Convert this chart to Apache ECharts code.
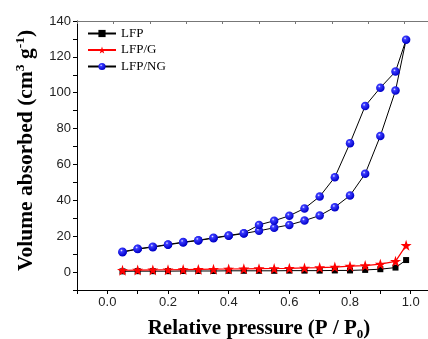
<!DOCTYPE html>
<html><head><meta charset="utf-8">
<script src="https://cdn.jsdelivr.net/npm/echarts@6/dist/echarts.min.js"></script>
<style>html,body{margin:0;padding:0;background:#fff}#c{width:428px;height:339px}</style>
</head><body><div id="c"></div>
<script>
// Relative pressure values
const pAds = [0.05,0.10,0.15,0.20,0.25,0.30,0.35,0.40,0.45,0.50,0.55,0.60,0.65,0.70,0.75,0.80,0.85,0.90,0.95,0.985];
const pDes = [0.95,0.90,0.85,0.80,0.75,0.70,0.65,0.60,0.55,0.50,0.45,0.40,0.35,0.30,0.25,0.20,0.15,0.10,0.05];
// LFP (black squares)
const lfp = [0.4,0.5,0.5,0.5,0.6,0.6,0.6,0.7,0.7,0.7,0.7,0.8,0.8,0.8,0.9,0.9,1.2,1.6,2.5,6.7];
// LFP/G (red stars)
const lfpG = [1.0,1.1,1.2,1.3,1.4,1.5,1.6,1.7,1.8,1.9,2.0,2.1,2.3,2.5,2.8,3.3,3.6,4.4,6.0,14.9];
// LFP/NG adsorption and desorption branches (blue spheres)
const ngAds = [11.1,12.8,13.9,15.2,16.5,17.6,18.9,20.2,21.5,23.0,24.7,26.3,28.7,31.5,36.2,42.7,54.8,75.9,101.2,129.6];
const ngDes = [111.8,102.8,92.6,71.9,52.9,42.1,35.5,31.4,28.6,26.3,21.7,20.4,19.1,17.8,16.7,15.4,14.1,13.0,11.3];
const xTickLabels = ['0.0','0.2','0.4','0.6','0.8','1.0'];
const yTickLabels = ['0','20','40','60','80','100','120','140'];

const pairs = (xs, ys) => xs.map((x, i) => [x, ys[i]]);
const ngLoop = pairs(pAds, ngAds).concat(pairs(pDes, ngDes));

const serif = '"Liberation Serif","Times New Roman",serif';
const sans = '"Liberation Sans",Arial,sans-serif';
const sphere = {type:'radial', x:0.38, y:0.35, r:0.65, colorStops:[
  {offset:0, color:'#e8e8ff'},{offset:0.25, color:'#3a3aff'},{offset:1, color:'#0000c8'}]};

const chart = echarts.init(document.getElementById('c'), null, {renderer:'canvas'});
chart.setOption({
  animation:false,
  grid:{left:77, top:21, width:364, height:269, containLabel:false, outerBoundsMode:'none'},
  legend:{
    orient:'vertical', left:87, top:27, padding:0, itemWidth:28, itemHeight:9, itemGap:3.5,
    textStyle:{fontFamily:serif, fontSize:13, color:'#000', lineHeight:13},
    data:['LFP','LFP/G','LFP/NG']
  },
  xAxis:[{
    type:'value', min:-0.1, max:1.1, interval:0.1, position:'bottom',
    axisLine:{onZero:false, lineStyle:{color:'#000', width:1}},
    axisTick:{show:true, inside:false, length:4, lineStyle:{color:'#000'}},
    splitLine:{show:false},
    axisLabel:{
      fontFamily:sans, fontSize:13, color:'#222', margin:6,
      formatter:(v)=>{ const k=Math.round(v*10); const s=(k/10).toFixed(1); return (k%2===0 && xTickLabels.includes(s))? s : ''; }
    },
    name:'Relative pressure (P / P{sub|0})', nameLocation:'middle', nameGap:26,
    nameTextStyle:{fontFamily:serif, fontSize:21, fontWeight:'bold', color:'#000',
      rich:{sub:{fontFamily:serif, fontSize:13, fontWeight:'bold', color:'#000', verticalAlign:'bottom', padding:[12,0,0,0]}}}
  },{
    type:'value', min:0, max:10, interval:1, position:'top',
    axisLine:{onZero:false, lineStyle:{color:'#777', width:1.2}},
    axisTick:{show:true, inside:true, length:3, lineStyle:{color:'#777'}},
    axisLabel:{show:false}, splitLine:{show:false}
  }],
  yAxis:{
    type:'value', min:-10, max:140, interval:10,
    axisLine:{show:true, onZero:false, lineStyle:{color:'#000', width:1}},
    axisTick:{show:true, inside:false, length:4, lineStyle:{color:'#000'}},
    splitLine:{show:false},
    axisLabel:{
      fontFamily:sans, fontSize:13, color:'#222', margin:6,
      formatter:(v)=> yTickLabels.includes(String(v)) ? String(v) : ''
    },
    name:'Volume absorbed (cm{sup|3} g{sup|-1})', nameLocation:'middle', nameGap:39,
    nameTextStyle:{fontFamily:serif, fontSize:21.5, fontWeight:'bold', color:'#000', padding:[0,0,0,10],
      rich:{sup:{fontFamily:serif, fontSize:13.5, fontWeight:'bold', color:'#000', verticalAlign:'top', padding:[0,0,10,0]}}}
  },
  series:[
    {name:'LFP', type:'line', data:pairs(pAds, lfp), symbol:'rect', symbolSize:6,
      lineStyle:{color:'#000', width:1}, itemStyle:{color:'#000'}},
    {name:'LFP/G', type:'line', data:pairs(pAds, lfpG), symbol:'path://M50,0 L61.8,35.1 L98.9,35.1 L68.9,56.9 L80.3,92.1 L50,70.3 L19.7,92.1 L31.1,56.9 L1.1,35.1 L38.2,35.1 Z', symbolSize:11,
      lineStyle:{color:'#f00', width:1.2}, itemStyle:{color:'#f00'}},
    {name:'LFP/NG', type:'line', data:ngLoop, symbol:'circle', symbolSize:8.5,
      lineStyle:{color:'#000', width:1}, itemStyle:{color:sphere, borderWidth:0}}
  ]
});
</script></body></html>
